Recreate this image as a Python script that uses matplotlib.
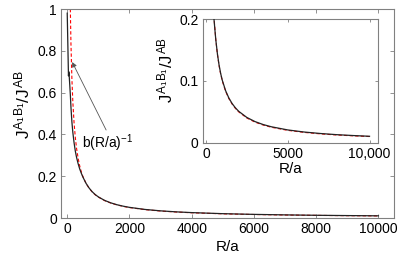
import matplotlib
matplotlib.use("Agg")
import matplotlib.pyplot as plt

plt.rcParams['font.family'] = ['Liberation Sans', 'DejaVu Sans']
plt.rcParams['mathtext.fontset'] = 'custom'
plt.rcParams['mathtext.rm'] = 'Liberation Sans'
plt.rcParams['mathtext.it'] = 'Liberation Sans'
plt.rcParams['mathtext.bf'] = 'Liberation Sans:bold'

# ---- data ----
r_exact = [0, 40, 50, 60, 80, 100, 120, 150, 180, 220, 260, 300, 350, 400, 450,
           500, 600, 700, 800, 900, 1000, 1200, 1400, 1600, 1800, 2000, 2500,
           3000, 3500, 4000, 5000, 6000, 7000, 8000, 9000, 10000]
j_exact = [0.98, 0.68, 0.70, 0.69, 0.64, 0.59, 0.53, 0.46, 0.41, 0.36, 0.32,
           0.29, 0.26, 0.235, 0.215, 0.197, 0.167, 0.144, 0.126, 0.112, 0.101,
           0.0843, 0.0724, 0.0634, 0.0565, 0.0509, 0.0409, 0.0342, 0.0294,
           0.0258, 0.0207, 0.0173, 0.0149, 0.013, 0.0116, 0.0104]
r_fit = [100, 120, 150, 180, 220, 260, 300, 350, 400, 450, 500, 600, 700, 800,
         900, 1000, 1200, 1400, 1600, 1800, 2000, 2500, 3000, 3500, 4000, 5000,
         6000, 7000, 8000, 9000, 10000]
j_fit = [1.0, 0.833, 0.667, 0.556, 0.455, 0.385, 0.333, 0.286, 0.25, 0.222,
         0.2, 0.167, 0.143, 0.125, 0.111, 0.1, 0.0833, 0.0714, 0.0625, 0.0556,
         0.05, 0.04, 0.0333, 0.0286, 0.025, 0.02, 0.0167, 0.0143, 0.0125,
         0.0111, 0.01]

main_xticks = [0, 2000, 4000, 6000, 8000, 10000]
main_xticklabels = ['0', '2000', '4000', '6000', '8000', '10000']
main_yticks = [0, 0.2, 0.4, 0.6, 0.8, 1.0]
main_yticklabels = ['0', '0.2', '0.4', '0.6', '0.8', '1']
inset_xticks = [0, 5000, 10000]
inset_xticklabels = ['0', '5000', '10,000']
inset_yticks = [0, 0.1, 0.2]
inset_yticklabels = ['0', '0.1', '0.2']

ylab = r'$J^{A_1B_1}/J^{AB}$'
frame = '#808080'

fig = plt.figure(figsize=(4.09, 2.58), dpi=100)
ax = fig.add_axes([61/409, 40/258, 333/409, 209/258])
ins = fig.add_axes([202.7/409, (258-142.7)/258, 175/409, 123.4/258])


def style(a, ticklen):
    for s in a.spines.values():
        s.set_color(frame)
        s.set_linewidth(0.8)
    a.tick_params(direction='in', length=ticklen, width=0.6, color=frame,
                  top=True, right=True, labelsize=10, pad=3, labelcolor='black')


for a in (ax, ins):
    a.plot(r_fit, j_fit, color='red', ls='--', lw=0.8, dashes=(3, 2), zorder=2)
    a.plot(r_exact, j_exact, color='#222222', lw=0.9, zorder=3)

ax.set_xlim(-200, 10500)
ax.set_ylim(0, 1)
ax.set_xticks(main_xticks, main_xticklabels)
ax.set_yticks(main_yticks, main_yticklabels)
style(ax, 3)
ax.set_xlabel('R/a', fontsize=11, labelpad=0)
ax.xaxis.set_label_coords(0.5, -0.105)
ax.set_ylabel(ylab, fontsize=12.5)
ax.yaxis.set_label_coords(-0.085, 0.545)

ax.text(480, 0.36, r'b(R/a)$^{-1}$', fontsize=10, ha='left', va='center')
ax.annotate('', xy=(160, 0.746), xytext=(1250, 0.421),
            arrowprops=dict(arrowstyle='-|>', color='#555555', lw=0.6,
                            mutation_scale=7, shrinkA=0, shrinkB=0))

ins.set_xlim(-200, 10500)
ins.set_ylim(0, 0.2)
ins.set_xticks(inset_xticks, inset_xticklabels)
ins.set_yticks(inset_yticks, inset_yticklabels)
style(ins, 2)
ins.set_xlabel('R/a', fontsize=11)
ins.xaxis.set_label_coords(0.5, -0.156)
ins.set_ylabel(ylab, fontsize=12)
ins.yaxis.set_label_coords(-0.158, 0.589)

fig.savefig('out.png', dpi=100)
